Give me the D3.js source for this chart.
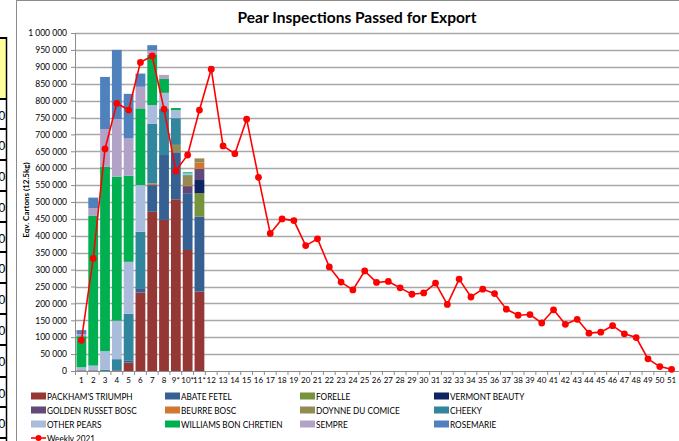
<!DOCTYPE html>
<html><head><meta charset="utf-8">
<script src="https://cdn.jsdelivr.net/npm/d3@7"></script>
<style>
body{margin:0;background:#fff;overflow:hidden}
svg{display:block}
text{font-family:Lato,'Open Sans',sans-serif;fill:#000}
</style>
</head><body>
<svg id="c" width="679" height="441"></svg>
<script>
// ---- data ----
const weekLabels = ["1","2","3","4","5","6","7","8","9*","10*","11*","12","13","14","15","16","17","18","19","20","21","22","23","24","25","26","27","28","29","30","31","32","33","34","35","36","37","38","39","40","41","42","43","44","45","46","47","48","49","50","51"];
const barWeeks = weekLabels.slice(0, 11);

const seriesNames = ["PACKHAM'S TRIUMPH","ABATE FETEL","FORELLE","VERMONT BEAUTY","GOLDEN RUSSET BOSC","BEURRE BOSC","DOYNNE DU COMICE","CHEEKY","OTHER PEARS","WILLIAMS BON CHRETIEN","SEMPRE","ROSEMARIE"];
const seriesColors = ["#953735","#376092","#77933C","#0E2463","#604A7B","#D07832","#948A54","#31859C","#A9BCDC","#00B050","#B3A2C7","#4F81BD"];

const packham   = [2000, 2000, 0, 2000, 25000, 232000, 471000, 447000, 508000, 358000, 235000];
const abate     = [0, 0, 0, 0, 5000, 13000, 79000, 192000, 139000, 168000, 222000];
const forelle   = [0, 0, 0, 0, 0, 0, 0, 0, 0, 0, 69000];
const vermont   = [0, 0, 0, 0, 0, 0, 0, 0, 0, 0, 39000];
const golden    = [0, 0, 0, 0, 0, 0, 0, 0, 0, 21000, 33000];
const beurre    = [0, 0, 0, 0, 0, 0, 5000, 0, 0, 3000, 19000];
const doynne    = [0, 0, 0, 0, 0, 0, 0, 0, 22000, 28000, 12000];
const cheeky    = [0, 0, 4000, 33000, 139000, 167000, 176000, 136000, 79000, 3000, 0];
const other     = [9000, 14000, 55000, 114000, 154000, 138000, 56000, 48000, 24000, 4000, 0];
const williams  = [92000, 444000, 545000, 426000, 255000, 227000, 148000, 41000, 6000, 3000, 0];
const sempre    = [6000, 22000, 112000, 170000, 110000, 64000, 13000, 12000, 0, 0, 0];
const rosemarie = [12000, 31000, 154000, 205000, 132000, 39000, 16000, 0, 0, 0, 0];

const weekly2021 = [91000,333000,657000,792000,772000,913000,932000,775000,592000,639000,772000,893000,666000,643000,745000,573000,407000,450000,445000,371000,391000,308000,263000,240000,296000,262000,265000,246000,227000,231000,260000,197000,272000,219000,242000,229000,183000,165000,167000,142000,181000,138000,153000,112000,115000,134000,110000,99000,36000,13000,5000];

const yTicks = d3.range(0, 1000001, 50000);

// ---- build ----
const seriesValues = [packham, abate, forelle, vermont, golden, beurre, doynne, cheeky, other, williams, sempre, rosemarie];
const table = barWeeks.map((w, i) => {
  const row = {week: w};
  seriesNames.forEach((n, k) => row[n] = seriesValues[k][i]);
  return row;
});

const svg = d3.select("#c");
svg.append("rect").attr("width", 679).attr("height", 441).attr("fill", "#fff");

// spreadsheet fragment on the left
const frag = svg.append("g");
frag.append("rect").attr("x", 0).attr("y", 38).attr("width", 6).attr("height", 61).attr("fill", "#FFFF99");
const rowLines = [38, 99, 129, 160, 191, 222, 252, 283, 314, 345, 377, 407, 438];
frag.selectAll("line.h").data(rowLines).join("line")
  .attr("x1", 0).attr("x2", 7).attr("y1", d => d).attr("y2", d => d)
  .attr("stroke", "#000").attr("stroke-width", 2);
frag.append("line").attr("x1", 6.5).attr("x2", 6.5).attr("y1", 37).attr("y2", 441).attr("stroke", "#000").attr("stroke-width", 1.5);
frag.selectAll("text").data(rowLines.slice(1)).join("text")
  .attr("x", 5.5).attr("y", d => d + 21).attr("text-anchor", "end")
  .style("font-family", "'Liberation Sans',Arial,sans-serif").style("font-size", "13px").text("0");

// chart area border
svg.append("line").attr("x1", 16.5).attr("x2", 16.5).attr("y1", 0).attr("y2", 441).attr("stroke", "#8c8c8c");
svg.append("line").attr("x1", 16).attr("x2", 679).attr("y1", 0.5).attr("y2", 0.5).attr("stroke", "#8c8c8c");

const x = d3.scaleBand().domain(weekLabels).range([74.5, 678.5]).paddingInner(0.17).paddingOuter(0.17);
const y = d3.scaleLinear().domain([0, 1000000]).range([371, 33]);
const fmt = v => d3.format(",")(v).replace(/,/g, " ");

// gridlines
svg.append("g").selectAll("line").data(yTicks.slice(1)).join("line")
  .attr("x1", 75).attr("x2", 679).attr("y1", d => Math.round(y(d)) + 0.5).attr("y2", d => Math.round(y(d)) + 0.5)
  .attr("stroke", "#A8A8A8").attr("stroke-width", 1.3);

// y axis
const yAxis = svg.append("g").attr("transform", "translate(75,0)")
  .call(d3.axisLeft(y).tickValues(yTicks).tickFormat(fmt).tickSize(4).tickPadding(4));
yAxis.select(".domain").attr("stroke", "#8c8c8c");
yAxis.selectAll(".tick line").attr("stroke", "#8c8c8c");
yAxis.selectAll("text").style("font-size", "8.5px").style("font-family", "Lato,sans-serif").attr("fill", "#000");

// bars
const stack = d3.stack().keys(seriesNames)(table);
svg.append("g").selectAll("g").data(stack).join("g")
  .attr("fill", (d, i) => seriesColors[i])
  .selectAll("rect").data(d => d).join("rect")
  .attr("x", d => x(d.data.week))
  .attr("width", x.bandwidth())
  .attr("y", d => y(d[1]))
  .attr("height", d => Math.max(0, y(d[0]) - y(d[1])));

// x axis
const xAxis = svg.append("g").attr("transform", "translate(0,371)")
  .call(d3.axisBottom(x).tickSize(0).tickPadding(6));
xAxis.select(".domain").attr("stroke", "#8c8c8c").attr("d", "M75,0.5H679");
xAxis.selectAll("text").style("font-size", "8px").style("font-family", "Lato,sans-serif").attr("fill", "#000");
svg.append("g").selectAll("line").data(weekLabels).join("line")
  .attr("x1", d => x(d) - x.step() * 0.085).attr("x2", d => x(d) - x.step() * 0.085)
  .attr("y1", 371).attr("y2", 375).attr("stroke", "#8c8c8c");

// line
const cx = w => x(w) + x.bandwidth() / 2;
const lineGen = d3.line().x((d, i) => cx(weekLabels[i])).y(d => y(d));
svg.append("path").datum(weekly2021).attr("d", lineGen)
  .attr("fill", "none").attr("stroke", "#FF0000").attr("stroke-width", 1.6);
svg.append("g").selectAll("circle").data(weekly2021).join("circle")
  .attr("cx", (d, i) => cx(weekLabels[i])).attr("cy", d => y(d)).attr("r", 3.4).attr("fill", "#FF0000");

// title
svg.append("text").attr("x", 357).attr("y", 23).attr("text-anchor", "middle")
  .style("font-size", "15.5px").style("font-weight", "bold").text("Pear Inspections Passed for Export");

// y title
svg.append("text").attr("transform", "translate(29,200) rotate(-90)").attr("text-anchor", "middle")
  .style("font-size", "8px").style("font-weight", "bold").text("Eqv. Cartons (12.5kg)");

// legend
const colX = [31, 165, 300, 434];
const rowY = [396, 410, 424, 438];
const leg = svg.append("g");
const legText = (sel) => {
  sel.style("font-size", "9.8px");
  const w = sel.node().getComputedTextLength();
  sel.attr("textLength", w * 0.84).attr("lengthAdjust", "spacingAndGlyphs");
};
seriesNames.forEach((n, i) => {
  const cxl = colX[i % 4], ry = rowY[Math.floor(i / 4)];
  leg.append("rect").attr("x", cxl).attr("y", ry - 3.5).attr("width", 15).attr("height", 7).attr("fill", seriesColors[i]);
  leg.append("text").attr("x", cxl + 16).attr("y", ry + 3.5).text(n).call(legText);
});
leg.append("line").attr("x1", colX[0]).attr("x2", colX[0] + 15).attr("y1", rowY[3]).attr("y2", rowY[3]).attr("stroke", "#FF0000").attr("stroke-width", 1.6);
leg.append("circle").attr("cx", colX[0] + 7.5).attr("cy", rowY[3]).attr("r", 3).attr("fill", "#FF0000");
leg.append("text").attr("x", colX[0] + 16).attr("y", rowY[3] + 3.5).text("Weekly 2021").call(legText);
</script>
</body></html>
